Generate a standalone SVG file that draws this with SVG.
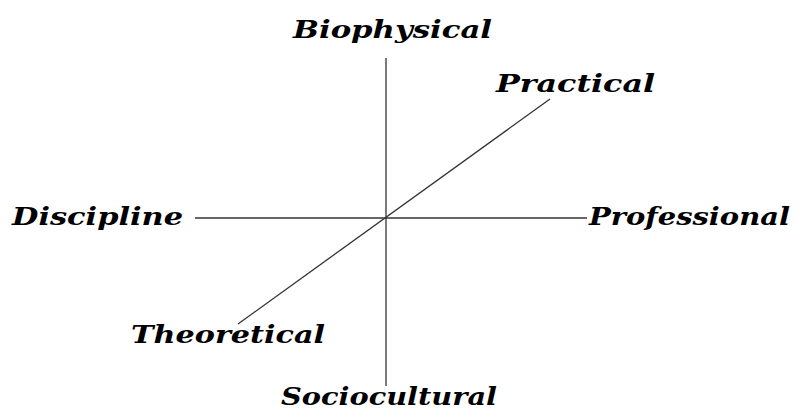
<svg xmlns="http://www.w3.org/2000/svg" width="799" height="412" viewBox="0 0 799 412">
<style>
.lbl{font-family:"DejaVu Serif","Liberation Serif",serif;font-style:italic;font-weight:bold;font-size:24px;fill:#000}
.ax{stroke:#333;stroke-width:1.3;fill:none}
</style>
<rect width="799" height="412" fill="#fff"/>
<g id="connectors">
<line class="ax" x1="386" y1="58" x2="386" y2="386"/>
<line class="ax" x1="195" y1="218" x2="587" y2="218"/>
<line class="ax" x1="238" y1="324" x2="550" y2="99"/>
</g>
<g id="biophysical"><text class="lbl" x="293" y="38" textLength="199" lengthAdjust="spacingAndGlyphs">Biophysical</text></g>
<g id="practical"><text class="lbl" x="496" y="92" textLength="159" lengthAdjust="spacingAndGlyphs">Practical</text></g>
<g id="discipline"><text class="lbl" x="12" y="225" textLength="171" lengthAdjust="spacingAndGlyphs">Discipline</text></g>
<g id="professional"><text class="lbl" x="589" y="225" textLength="201" lengthAdjust="spacingAndGlyphs">Professional</text></g>
<g id="theoretical"><text class="lbl" x="131" y="343" textLength="194" lengthAdjust="spacingAndGlyphs">Theoretical</text></g>
<g id="sociocultural"><text class="lbl" x="281" y="405" font-size="23" textLength="216" lengthAdjust="spacingAndGlyphs">Sociocultural</text></g>
</svg>
